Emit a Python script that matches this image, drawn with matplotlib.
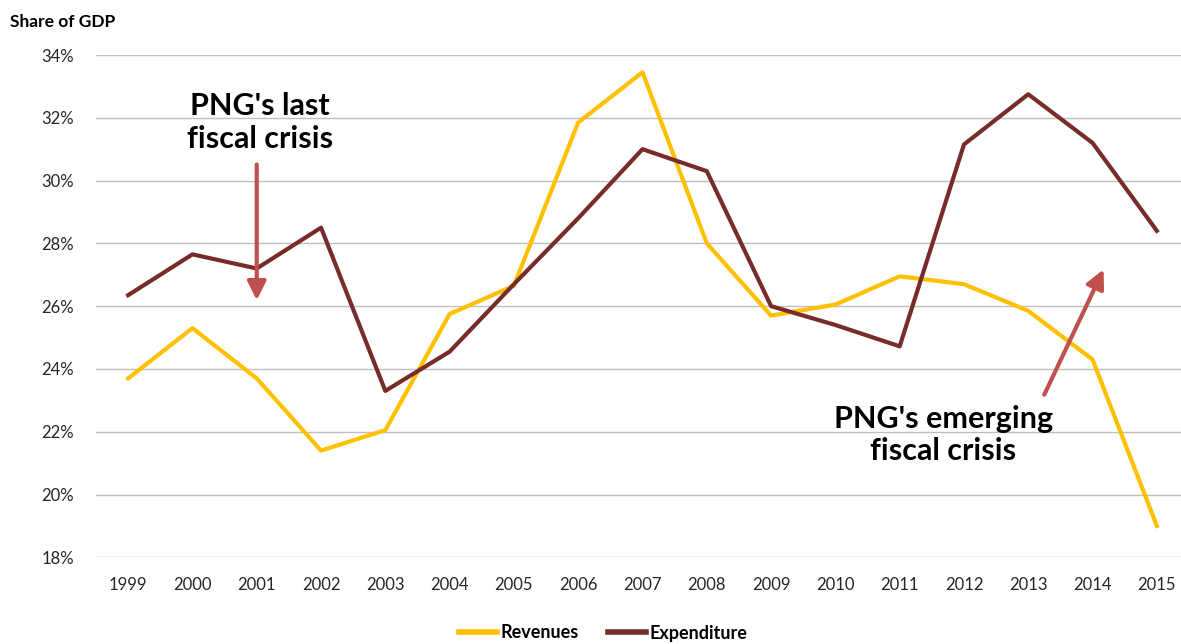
import matplotlib.pyplot as plt
from matplotlib.ticker import FuncFormatter

years = ["1999", "2000", "2001", "2002", "2003", "2004", "2005", "2006", "2007",
         "2008", "2009", "2010", "2011", "2012", "2013", "2014", "2015"]
revenues = [23.7, 25.3, 23.7, 21.4, 22.05, 25.75, 26.65, 31.85, 33.45,
            28.0, 25.7, 26.05, 26.95, 26.7, 25.85, 24.3, 19.0]
expenditure = [26.35, 27.65, 27.2, 28.5, 23.3, 24.55, 26.7, 28.8, 31.0,
               30.3, 26.0, 25.4, 24.72, 31.15, 32.75, 31.2, 28.4]
yticks = [18, 20, 22, 24, 26, 28, 30, 32, 34]

plt.rcParams['font.family'] = ['Lato', 'DejaVu Sans']

W, H = 1181, 644
fig = plt.figure(figsize=(W / 100, H / 100), dpi=100)
# plot area runs past the right edge, like the cropped original
ax = fig.add_axes([96 / W, 1 - 557.3 / H, 1093 / W, (557.3 - 55) / H])

x = list(range(len(years)))
ax.plot(x, revenues, color='#FFC000', lw=3, label='Revenues', solid_joinstyle='round')
ax.plot(x, expenditure, color='#772C2A', lw=3, label='Expenditure', solid_joinstyle='round')

ax.set_xlim(-0.5, len(years) - 0.5)
ax.set_ylim(18, 34)
ax.set_yticks(yticks)
ax.yaxis.set_major_formatter(FuncFormatter(lambda v, p: f"{v:.0f}%"))
ax.set_xticks(x)
ax.set_xticklabels(years)
ax.tick_params(length=0, labelsize=12, colors='#262626', pad=14)
ax.tick_params(axis='y', pad=16)
ax.grid(axis='y', color='#BFBFBF', lw=1)
ax.set_axisbelow(True)
for s in ax.spines.values():
    s.set_visible(False)

fig.text(10 / W, 1 - 22 / H, "Share of GDP", fontsize=12.5, fontweight='bold',
         va='center', ha='left')

# annotations
arrow_color = '#C0504D'
ax.annotate("", xy=(2.0, 26.1), xytext=(2.0, 30.6),
            arrowprops=dict(arrowstyle='-|>', color=arrow_color, lw=3,
                            mutation_scale=28))
ax.text(2.05, 31.85, "PNG's last\nfiscal crisis", ha='center', va='center',
        fontsize=22, fontweight='bold', linespacing=1.2)

ax.annotate("", xy=(15.19, 27.25), xytext=(14.23, 23.1),
            arrowprops=dict(arrowstyle='-|>', color=arrow_color, lw=3,
                            mutation_scale=28))
ax.text(12.68, 21.9, "PNG's emerging\nfiscal crisis", ha='center', va='center',
        fontsize=22, fontweight='bold', linespacing=1.2)

leg = fig.legend(loc='center', bbox_to_anchor=(603 / W, 1 - 633 / H), ncol=2,
                 frameon=False, prop={'weight': 'bold', 'size': 13},
                 handlelength=2.1, handletextpad=0.2, columnspacing=1.6)
for line in leg.get_lines():
    line.set_linewidth(4)

fig.savefig("out.png", dpi=100)
